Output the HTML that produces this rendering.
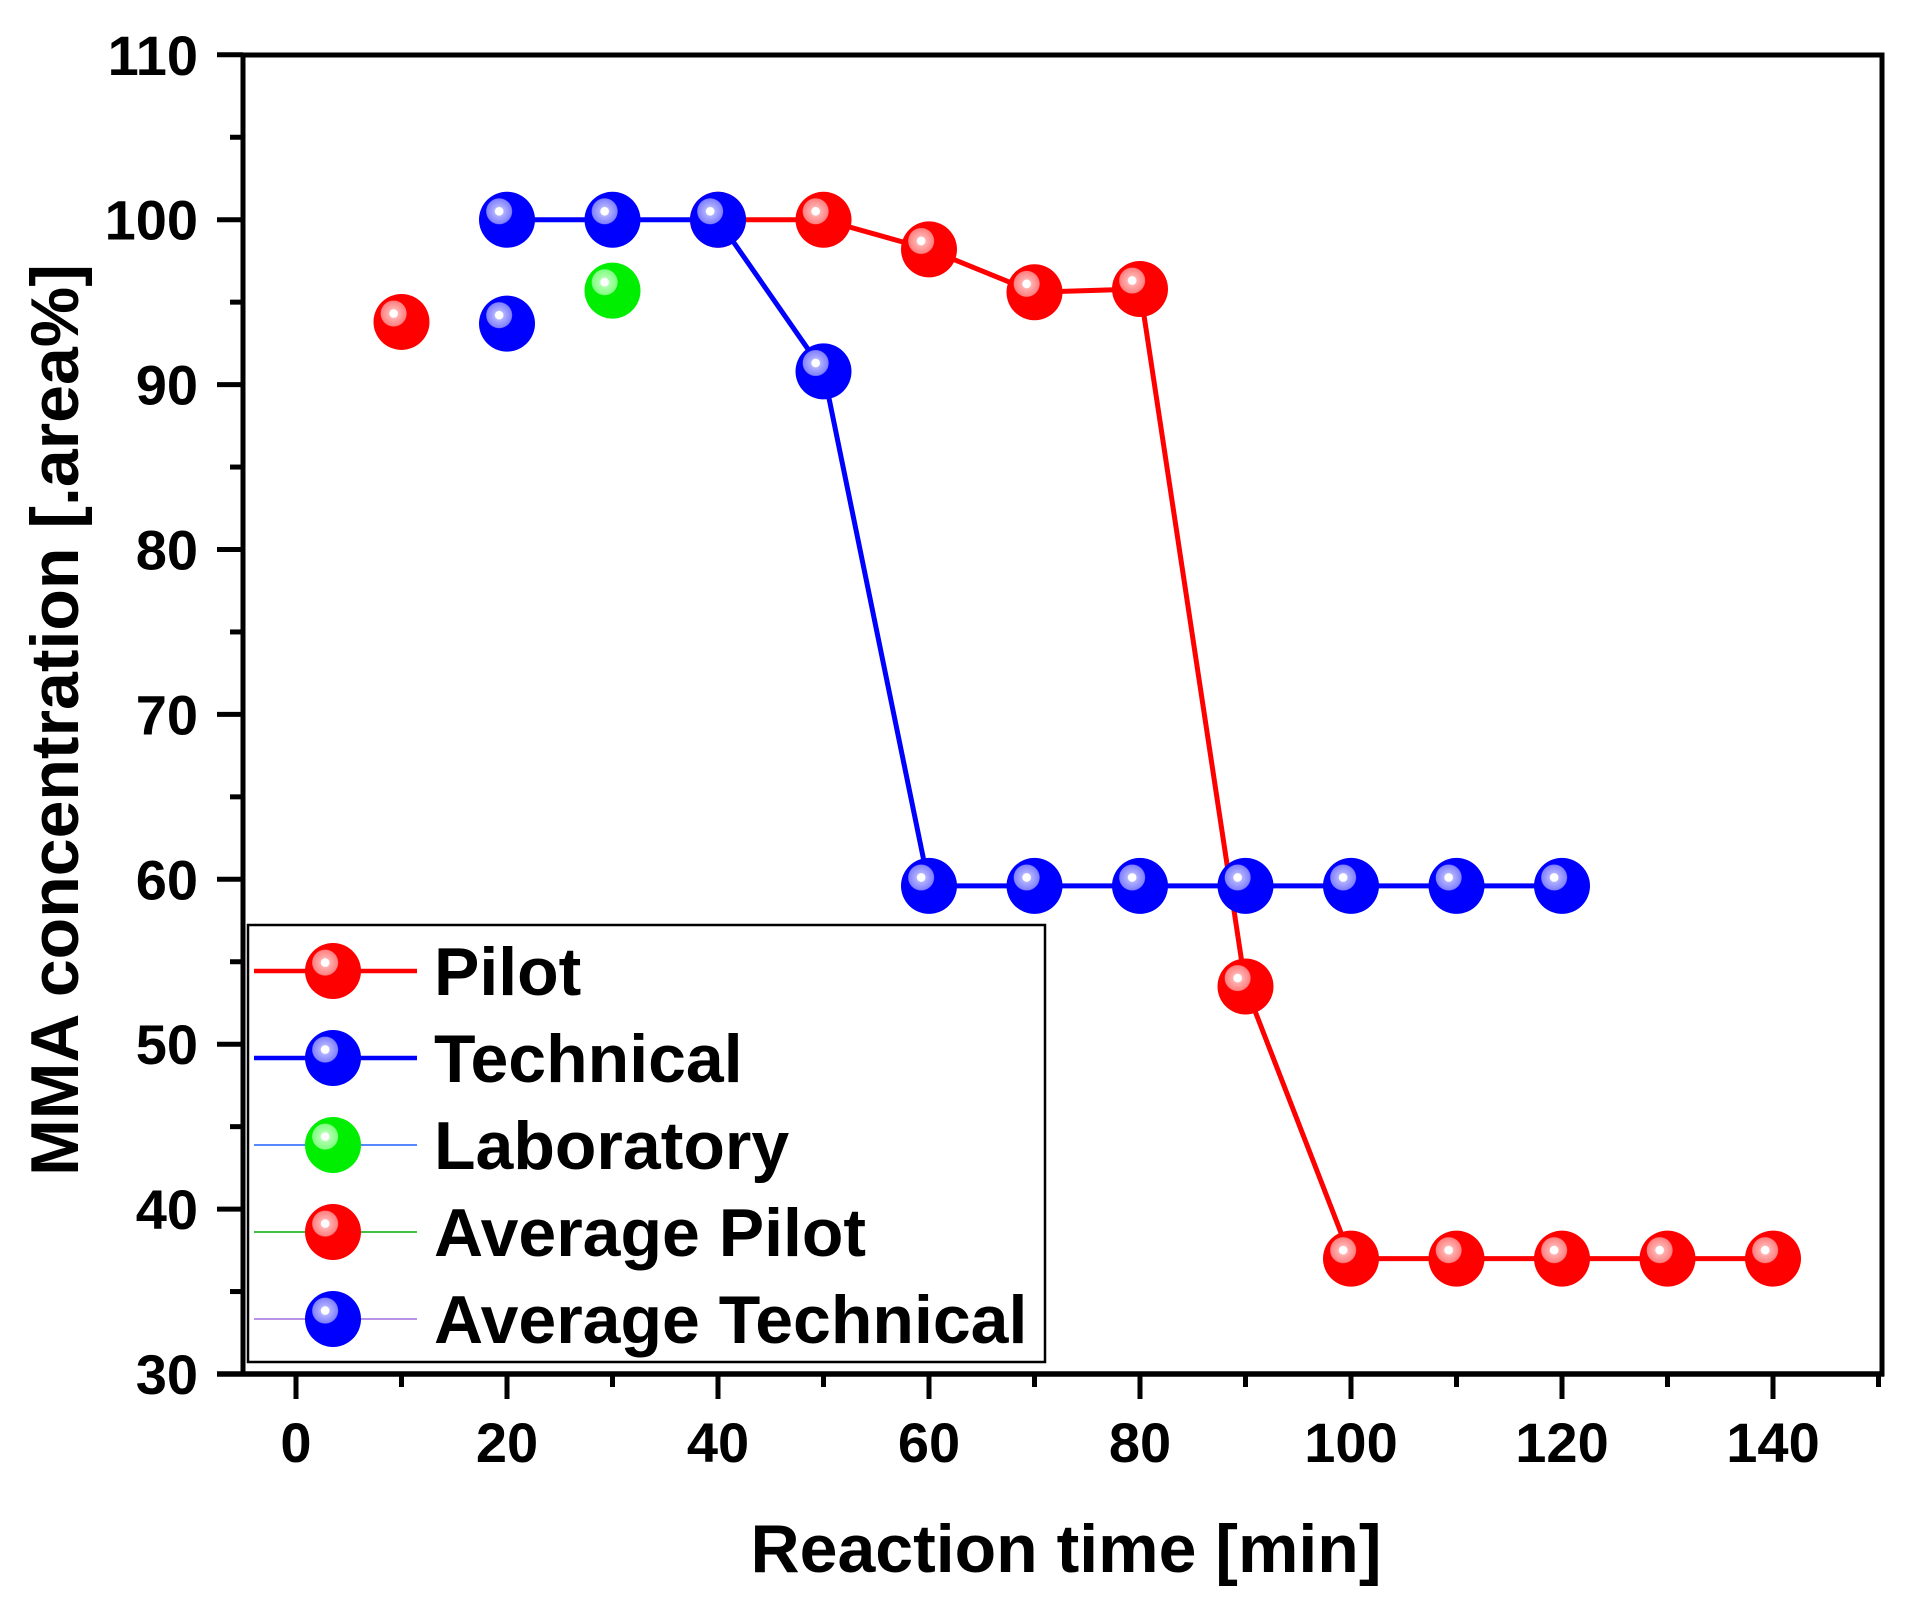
<!DOCTYPE html>
<html><head><meta charset="utf-8"><style>
html,body{margin:0;padding:0;background:#fff}
svg{display:block}
text{font-family:"Liberation Sans",Arial,sans-serif;font-weight:bold;fill:#000}
</style></head><body>
<svg id="chart" width="1912" height="1615" viewBox="0 0 1912 1615" xmlns="http://www.w3.org/2000/svg">
<defs>
<radialGradient id="gr" cx="0.36" cy="0.35" r="0.7"><stop offset="0" stop-color="#fff"/><stop offset="0.1" stop-color="#fff"/><stop offset="0.12" stop-color="#ffb0b0"/><stop offset="0.32" stop-color="#ff8080"/><stop offset="0.34" stop-color="#ff0000"/><stop offset="1" stop-color="#ff0000"/></radialGradient>
<radialGradient id="gb" cx="0.36" cy="0.35" r="0.7"><stop offset="0" stop-color="#fff"/><stop offset="0.1" stop-color="#fff"/><stop offset="0.12" stop-color="#b0b0ff"/><stop offset="0.32" stop-color="#8080ff"/><stop offset="0.34" stop-color="#0000ff"/><stop offset="1" stop-color="#0000ff"/></radialGradient>
<radialGradient id="gg" cx="0.36" cy="0.35" r="0.7"><stop offset="0" stop-color="#fff"/><stop offset="0.1" stop-color="#fff"/><stop offset="0.12" stop-color="#b0ffb0"/><stop offset="0.32" stop-color="#80ff80"/><stop offset="0.34" stop-color="#00ee00"/><stop offset="1" stop-color="#00ee00"/></radialGradient>
</defs>
<g id="axes"></g>
<g id="series"></g>
<g id="legend"></g>
<text x="1066" y="1572" font-size="68" text-anchor="middle">Reaction time [min]</text>
<text transform="translate(78,720) rotate(-90)" font-size="68" text-anchor="middle">MMA concentration [.area%]</text>
</svg>
<script>
const pilotX = [40,50,60,70,80,90,100,110,120,130,140];
const pilotY = [100,100,98.2,95.6,95.8,53.5,37,37,37,37,37];
const techX = [20,30,40,50,60,70,80,90,100,110,120];
const techY = [100,100,100,90.8,59.6,59.6,59.6,59.6,59.6,59.6,59.6];
const labX = [30];
const labY = [95.7];
const avgPilotX = [10];
const avgPilotY = [93.8];
const avgTechX = [20];
const avgTechY = [93.7];
const xTicks = [0,20,40,60,80,100,120,140];
const yTicks = [30,40,50,60,70,80,90,100,110];
const legendLabels = ["Pilot","Technical","Laboratory","Average Pilot","Average Technical"];

const NS="http://www.w3.org/2000/svg";
const X0=296, XS=10.55, Y0=1374, YS=16.49;
const sx=v=>X0+v*XS, sy=v=>Y0-(v-30)*YS;
function mk(tag,attrs,parent){const e=document.createElementNS(NS,tag);for(const k in attrs)e.setAttribute(k,attrs[k]);parent.appendChild(e);return e;}
const axes=document.getElementById('axes'), ser=document.getElementById('series'), leg=document.getElementById('legend');

let f=mk('rect',{x:243,y:55,width:1639,height:1319,fill:'none',stroke:'#000','stroke-width':5},axes);


let bx=mk('line',{x1:217,y1:1374,x2:1884,y2:1374,stroke:'#000','stroke-width':5.5},axes);


xTicks.forEach(v=>{
  let t=mk('line',{x1:sx(v),y1:1374,x2:sx(v),y2:1399,stroke:'#000','stroke-width':5},axes);
  
  
  let m=mk('line',{x1:sx(v+10),y1:1374,x2:sx(v+10),y2:1387,stroke:'#000','stroke-width':5},axes);
  
  
  let l=mk('text',{x:sx(v),y:1462,'font-size':56,'text-anchor':'middle'},axes);l.textContent=v;
  
  
});
yTicks.forEach((v,i)=>{
  let t=mk('line',{x1:217,y1:sy(v),x2:243,y2:sy(v),stroke:'#000','stroke-width':5},axes);
  
  
  if(i<yTicks.length-1){let m=mk('line',{x1:230,y1:sy(v+5),x2:243,y2:sy(v+5),stroke:'#000','stroke-width':5},axes);
  
  }
  let l=mk('text',{x:198,y:sy(v)+20,'font-size':56,'text-anchor':'end'},axes);l.textContent=v;
  
  
});
function marker(cx,cy,g,parent){let c=mk('circle',{cx:cx,cy:cy,r:28,fill:'url(#'+g+')'},parent);return c;}
function series(xs,ys,color,g,name,line){
  const grp=mk('g',{},ser);
  
  
  if(line){let p=mk('polyline',{points:xs.map((x,i)=>sx(x)+','+sy(ys[i])).join(' '),fill:'none',stroke:color,'stroke-width':5},grp);
  
  }
  xs.forEach((x,i)=>{let c=marker(sx(x),sy(ys[i]),g,grp);
  
  });
}
series(pilotX,pilotY,'#ff0000','gr','pilot-series',true);
series(techX,techY,'#0000ff','gb','technical-series',true);
series(labX,labY,'#0000ff','gg','laboratory-series',false);
series(avgPilotX,avgPilotY,'#00aa00','gr','average-pilot-series',false);
series(avgTechX,avgTechY,'#a070e0','gb','average-technical-series',false);

let lb=mk('rect',{x:248,y:925,width:797,height:437,fill:'#fff',stroke:'#000','stroke-width':2.5},leg);


const lc=['#ff0000','#0000ff','#2060ff','#00aa00','#a070e0'], lw=[4.5,4.5,1.5,1.5,1.5], lg=['gr','gb','gg','gr','gb'];
legendLabels.forEach((s,i)=>{
  const y=971+i*87;
  const e=mk('g',{},leg);
  
  
  mk('line',{x1:254,y1:y,x2:417,y2:y,stroke:lc[i],'stroke-width':lw[i]},e);
  marker(333,y,lg[i],e);
  let t=mk('text',{x:434,y:y+24,'font-size':68},e);t.textContent=s;
  
  
});
</script>
</body></html>
